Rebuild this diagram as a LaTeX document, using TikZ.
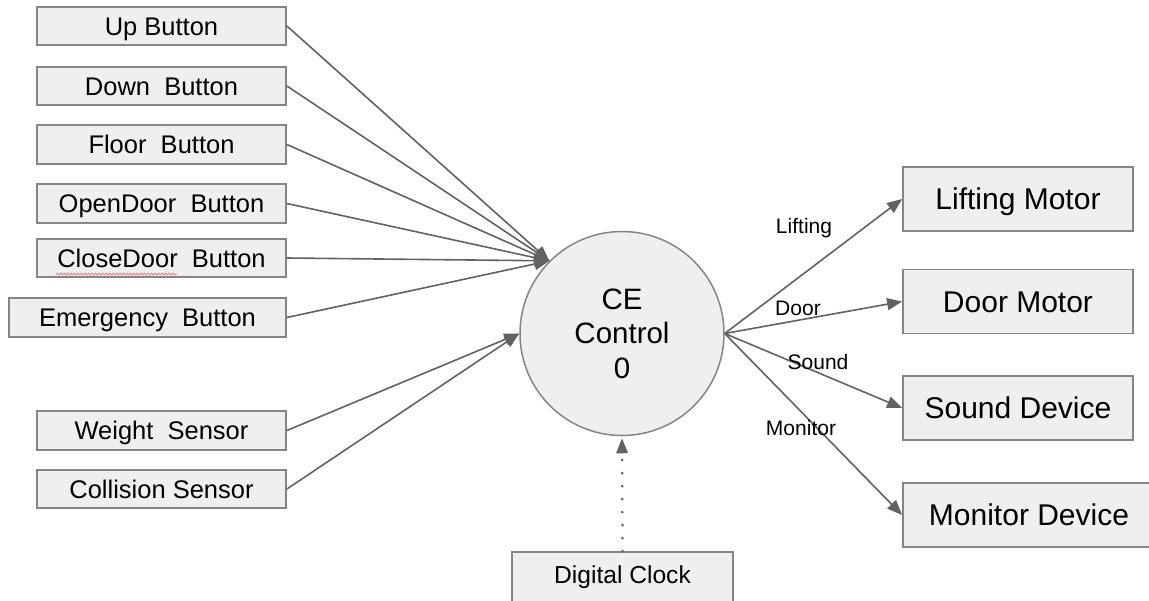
\documentclass[tikz,border=0pt]{standalone}
\usepackage{fontspec}
\setmainfont{Liberation Sans}
\usetikzlibrary{arrows.meta,decorations.pathmorphing}
\definecolor{boxfill}{HTML}{EFEFEF}
\definecolor{boxline}{HTML}{858585}
\definecolor{edgecol}{HTML}{626262}
\definecolor{squig}{HTML}{E57373}
\begin{document}
\begin{tikzpicture}[x=1pt,y=-1pt,
  inbox/.style={draw=boxline, fill=boxfill, line width=1.8pt, inner sep=0pt,
    minimum width=249pt, minimum height=38.5pt,
    font=\fontsize{25.5}{28}\selectfont, text height=18.3pt, text depth=0pt},
  outbox/.style={draw=boxline, fill=boxfill, line width=1.8pt, inner sep=0pt,
    minimum width=230pt, minimum height=64pt,
    font=\fontsize{30}{34}\selectfont, text height=21.5pt, text depth=0pt},
  clockbox/.style={draw=boxline, fill=boxfill, line width=1.8pt, inner sep=0pt,
    minimum width=221pt, minimum height=50pt,
    font=\fontsize{24.6}{28}\selectfont, text height=17.6pt, text depth=4pt},
  ctrl/.style={circle, draw=boxline, fill=boxfill, line width=1.5pt, inner sep=0pt,
    minimum size=204pt, align=center, font=\fontsize{29.5}{34.5}\selectfont},
  flow/.style={draw=edgecol, line width=1.6pt, -{Triangle[length=15pt,width=12pt]}},
  elabel/.style={font=\fontsize{21}{24}\selectfont, inner sep=0pt}
]
\useasboundingbox (0,0) rectangle (1149,600);
\fill[white] (0,0) rectangle (1149,600);

% left inputs
\node[inbox] (up)    at (161.5,26)    {Up Button};
\node[inbox] (down)  at (161.5,86)    {Down~~Button};
\node[inbox] (floor) at (161.5,144.5) {Floor~~Button};
\node[inbox] (open)  at (161.5,203.5) {OpenDoor~~Button};
\node[inbox] (close) at (161.5,258)   {CloseDoor~~Button};
\node[inbox, minimum width=277pt] (emerg) at (147.5,317.5) {Emergency~~Button};
\node[inbox] (weight) at (161.5,430.5) {Weight~~Sensor};
\node[inbox] (coll)   at (161.5,489)   {Collision Sensor};

% spell-check underline under CloseDoor
\coordinate (sqa) at (56,274);
\coordinate (sqb) at (177,274);
\draw[squig, line width=0.7pt, decorate,
  decoration={snake, amplitude=1pt, segment length=3.5pt}] (sqa) -- (sqb);

% central control
\node[ctrl] (c) at (622,333.5) {CE\\Control\\0};

% right outputs
\node[outbox] (lift)  at (1018,199)   {Lifting Motor};
\node[outbox] (door)  at (1018,301.5) {Door Motor};
\node[outbox] (sound) at (1018,408)   {Sound Device};
\node[outbox, minimum width=252pt] (mon) at (1029,515) {Monitor Device};

% clock
\node[clockbox] (clock) at (622.5,577) {Digital Clock};

% input connectors
\foreach \n in {up,down,floor,open,close,emerg}
  \draw[flow] (\n.east) -- (c.135);
\draw[flow] (weight.east) -- (c.west);
\draw[flow] (coll.east) -- (c.west);

% output connectors
\draw[flow] (c.east) -- (lift.west);
\draw[flow] (c.east) -- (door.west);
\draw[flow] (c.east) -- (sound.west);
\draw[flow] (c.east) -- (mon.west);

% clock connector
\draw[draw=edgecol, line width=3pt, line cap=round, dash pattern=on 0pt off 13pt,
  -{Triangle[length=15pt,width=12pt,line width=0pt]}, shorten >=2pt] (clock.north) -- (c.south);

% edge labels
\node[elabel] (llift)  at (804,228)   {Lifting};
\node[elabel] (ldoor)  at (798,308.5) {Door};
\node[elabel] (lsound) at (818,362)   {Sound};
\node[elabel] (lmon)   at (801,428)   {Monitor};
\end{tikzpicture}
\end{document}
